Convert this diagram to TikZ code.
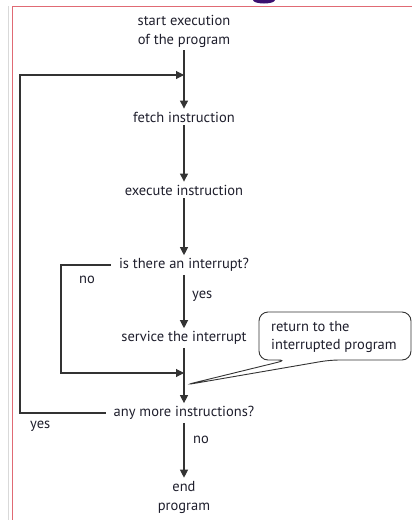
\documentclass[tikz,border=0pt]{standalone}
\usepackage{fontspec}
\setmainfont{PT Sans}
\usetikzlibrary{arrows.meta}
\definecolor{ink}{HTML}{1E1E2C}
\definecolor{linegray}{HTML}{333333}
\definecolor{framered}{HTML}{E06A74}
\definecolor{headpurple}{HTML}{3A1070}
\tikzset{
  step text/.style={text=ink, font=\fontsize{14.5}{19}\selectfont, inner sep=3pt, align=center},
  lbl/.style={text=ink, font=\fontsize{14.5}{18}\selectfont, inner sep=0pt},
  flow/.style={draw=linegray, line width=1.1pt, -{Triangle[width=8pt,length=8pt]}},
  callout/.style={draw=linegray, line width=0.9pt, fill=white, rounded corners=9pt},
}
\begin{document}
\begin{tikzpicture}[x=1pt,y=-1pt]
\useasboundingbox (0,0) rectangle (412,520);
% page frame and cut-off heading glyph
\fill[headpurple] (264,0) ellipse (11 and 3.5);
\draw[black!15, line width=0.8pt] (8,6) -- (8,520);
\draw[framered, line width=1pt] (12,520) -- (12,6) -- (412,6);

% steps
\node[step text] (start) at (184,31) {start execution\\of the program};
\node[step text] (fetch) at (184,117) {fetch instruction};
\node[step text] (exec)  at (184,190) {execute instruction};
\node[step text] (intr)  at (184,265) {is there an interrupt?};
\node[step text] (serv)  at (184,338) {service the interrupt};
\node[step text] (more)  at (184,413) {any more instructions?};
\node[step text] (endp)  at (184,497) {end\\program};

% junction points
\coordinate (loopin) at (184,75);
\coordinate (merge) at (184,373);
\coordinate (nocorner) at (61,373);
\coordinate (yescorner) at (20,75);

% main flow
\draw[flow] (start) -- (fetch);
\draw[flow] (fetch) -- (exec);
\draw[flow] (exec) -- (intr);
\draw[flow] (intr) -- (serv);
\draw[flow] (serv) -- (more);
\draw[flow] (more) -- (endp);

% branches
\draw[flow] ([xshift=-5pt]intr.west) -| (nocorner) -- (merge);
\draw[flow] ([xshift=-5pt]more.west) -| (yescorner) -- (loopin);

% branch labels
\node[lbl, anchor=west] (yesa) at (192,296) {yes};
\node[lbl, anchor=west] (noa)  at (79,280) {no};
\node[lbl, anchor=west] (yesb) at (30,426) {yes};
\node[lbl, anchor=west] (nob)  at (193,440) {no};

% speech bubble
\coordinate (tip) at (185,385);
\draw[callout] (330,360) -- (tip) -- (287,360) [rounded corners=9pt] -- (259,360) -- (259,312) -- (411,312) -- (411,360) -- cycle;
\node[lbl, align=left, anchor=west] (note) at (271,336.5) {return to the\\interrupted program};
\end{tikzpicture}
\end{document}
